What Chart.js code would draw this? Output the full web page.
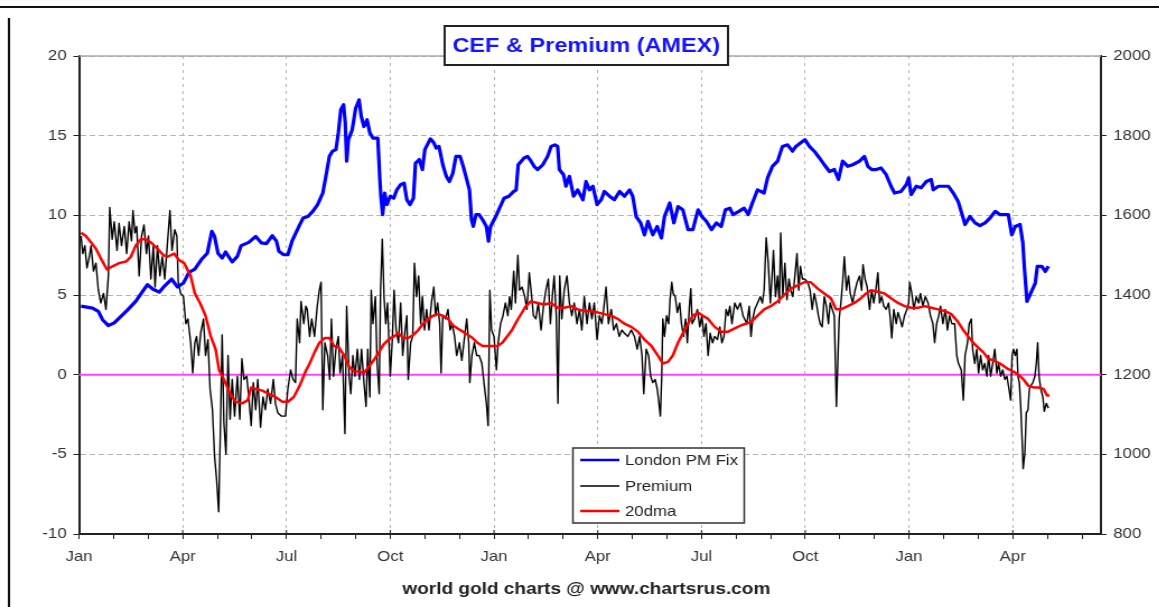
<!DOCTYPE html>
<html>
<head>
<meta charset="utf-8">
<script src="https://cdn.jsdelivr.net/npm/chart.js@4.4.1/dist/chart.umd.min.js"></script>
<style>
  html, body { margin: 0; padding: 0; background: #fff; overflow: hidden; }
  /* the source picture is stretched sideways, so the canvas is too */
  #wrap { width: 1035px; height: 607px; transform: scaleX(1.12); transform-origin: 0 0; }
</style>
</head>
<body>
<div id="wrap"><canvas id="chart" width="1035" height="607"></canvas></div>
<script>
// x = months since Jan 2011
const quarterNames = ["Jan", "Apr", "Jul", "Oct"];
const titleText = "CEF & Premium (AMEX)";
const footerText = "world gold charts @ www.chartsrus.com";

// [month, US$/oz]
const londonFix = [
  [0.06,1372],[0.39,1367],[0.56,1359],[0.68,1338],[0.85,1323],[1.02,1330],[1.16,1342],[1.40,1362],[1.64,1384],[1.84,1409],
  [1.98,1426],[2.13,1415],[2.32,1407],[2.48,1423],[2.68,1440],[2.85,1420],[3.02,1430],[3.18,1457],[3.35,1465],[3.54,1489],
  [3.71,1505],[3.84,1560],[3.92,1547],[4.02,1505],[4.14,1493],[4.24,1508],[4.43,1483],[4.58,1497],[4.69,1524],[4.91,1532],
  [5.11,1547],[5.27,1531],[5.42,1529],[5.59,1549],[5.71,1535],[5.78,1510],[5.92,1501],[6.04,1501],[6.16,1535],[6.36,1572],
  [6.48,1593],[6.62,1597],[6.76,1610],[6.90,1627],[7.05,1656],[7.14,1698],[7.24,1748],[7.33,1761],[7.43,1765],[7.50,1807],
  [7.57,1865],[7.65,1878],[7.70,1832],[7.74,1736],[7.79,1790],[7.90,1815],[8.00,1869],[8.10,1890],[8.16,1849],[8.24,1823],
  [8.33,1840],[8.41,1807],[8.50,1794],[8.64,1794],[8.70,1690],[8.73,1648],[8.78,1602],[8.84,1656],[8.90,1627],[9.00,1648],
  [9.10,1643],[9.19,1664],[9.30,1677],[9.40,1681],[9.48,1639],[9.57,1627],[9.67,1643],[9.73,1731],[9.84,1740],[9.93,1715],
  [10.00,1765],[10.10,1782],[10.16,1792],[10.26,1782],[10.33,1769],[10.41,1773],[10.52,1727],[10.62,1698],[10.71,1685],[10.81,1706],
  [10.90,1748],[11.02,1748],[11.11,1723],[11.21,1690],[11.29,1664],[11.35,1589],[11.40,1572],[11.48,1602],[11.57,1602],[11.67,1589],
  [11.78,1572],[11.84,1535],[11.90,1572],[12.05,1597],[12.16,1618],[12.29,1643],[12.43,1648],[12.57,1660],[12.64,1664],[12.70,1727],
  [12.87,1744],[12.97,1748],[13.07,1736],[13.16,1723],[13.26,1715],[13.41,1727],[13.55,1748],[13.65,1773],[13.76,1777],[13.84,1773],
  [13.89,1715],[14.01,1702],[14.08,1673],[14.18,1698],[14.30,1648],[14.42,1664],[14.57,1639],[14.66,1685],[14.76,1664],[14.86,1673],
  [14.98,1627],[15.10,1639],[15.19,1660],[15.34,1648],[15.48,1639],[15.63,1660],[15.77,1648],[15.92,1664],[16.01,1648],[16.11,1597],
  [16.24,1581],[16.35,1551],[16.45,1585],[16.59,1551],[16.72,1572],[16.84,1543],[16.93,1597],[17.08,1631],[17.20,1581],[17.32,1622],
  [17.46,1614],[17.61,1564],[17.75,1564],[17.90,1614],[18.01,1597],[18.14,1585],[18.29,1564],[18.43,1581],[18.57,1572],[18.69,1614],
  [18.82,1618],[18.91,1602],[19.08,1610],[19.23,1618],[19.35,1602],[19.47,1631],[19.62,1664],[19.81,1656],[19.91,1694],[20.05,1723],
  [20.20,1736],[20.34,1773],[20.49,1777],[20.63,1761],[20.73,1773],[20.87,1782],[20.99,1790],[21.12,1773],[21.26,1761],[21.41,1744],
  [21.55,1727],[21.70,1710],[21.84,1715],[21.96,1690],[22.08,1736],[22.23,1723],[22.37,1727],[22.57,1736],[22.71,1748],[22.81,1723],
  [22.92,1715],[23.05,1715],[23.19,1719],[23.34,1702],[23.48,1673],[23.58,1656],[23.77,1660],[23.92,1677],[23.99,1694],[24.06,1652],
  [24.21,1673],[24.35,1669],[24.50,1685],[24.64,1690],[24.70,1664],[24.85,1673],[24.99,1673],[25.14,1673],[25.28,1656],[25.42,1635],
  [25.52,1606],[25.62,1577],[25.76,1597],[25.91,1581],[26.05,1574],[26.20,1581],[26.34,1593],[26.49,1610],[26.63,1602],[26.87,1602],
  [26.97,1551],[27.07,1572],[27.21,1577],[27.29,1531],[27.34,1464],[27.41,1384],[27.50,1401],[27.65,1430],[27.71,1472],[27.84,1472],
  [27.94,1459],[28.03,1472]
];

// [month, premium %]
const premium = [
  [0.06,8.7],[0.11,7.6],[0.17,8.1],[0.23,6.7],[0.30,7.4],[0.35,8.1],[0.42,6.5],[0.49,7.0],[0.56,5.3],[0.63,4.5],
  [0.71,5.1],[0.78,4.1],[0.85,6.2],[0.89,10.5],[0.96,8.5],[1.02,9.6],[1.10,7.8],[1.16,9.5],[1.23,8.1],[1.31,9.3],
  [1.38,7.6],[1.45,9.6],[1.52,8.4],[1.56,10.3],[1.62,8.9],[1.67,9.3],[1.74,6.2],[1.81,8.7],[1.88,9.4],[1.95,7.6],
  [2.01,8.7],[2.08,6.0],[2.15,8.1],[2.20,5.5],[2.27,8.1],[2.34,6.2],[2.41,7.4],[2.48,6.0],[2.56,8.3],[2.63,10.3],
  [2.69,7.8],[2.77,9.1],[2.83,8.7],[2.87,5.8],[2.94,5.1],[3.02,4.9],[3.09,3.2],[3.15,3.5],[3.23,2.0],[3.29,0.1],
  [3.35,2.0],[3.40,2.4],[3.46,1.2],[3.52,2.6],[3.60,3.5],[3.66,1.2],[3.73,2.2],[3.79,-0.9],[3.86,-2.2],[3.92,-5.1],
  [3.98,-6.6],[4.04,-8.6],[4.10,-2.2],[4.14,2.5],[4.19,-3.0],[4.25,-5.0],[4.31,1.2],[4.37,-2.8],[4.43,-0.3],[4.50,-2.6],
  [4.58,-0.1],[4.65,-2.8],[4.71,1.0],[4.77,-0.3],[4.85,-0.1],[4.91,-1.4],[4.98,-3.2],[5.04,-0.5],[5.11,-2.2],[5.17,-0.3],
  [5.25,-3.3],[5.32,-1.4],[5.39,-2.2],[5.46,-0.9],[5.54,-1.8],[5.62,-0.3],[5.68,-1.8],[5.75,-2.4],[5.85,-2.6],[5.97,-2.6],
  [6.04,-0.9],[6.12,0.3],[6.19,-0.3],[6.26,-0.5],[6.31,3.5],[6.38,2.0],[6.42,4.6],[6.50,3.2],[6.56,4.3],[6.60,4.1],
  [6.67,2.4],[6.73,3.5],[6.81,2.4],[6.89,4.3],[6.95,5.3],[7.00,5.8],[7.05,-2.2],[7.11,2.0],[7.19,1.2],[7.25,-0.3],
  [7.30,3.5],[7.36,-0.1],[7.43,1.6],[7.50,2.4],[7.55,0.1],[7.62,1.2],[7.69,-3.7],[7.74,4.3],[7.81,-0.1],[7.86,-1.2],
  [7.92,1.2],[7.98,-0.1],[8.05,1.6],[8.11,-0.3],[8.17,1.6],[8.24,-0.5],[8.30,-2.0],[8.35,1.6],[8.41,-1.4],[8.45,5.3],
  [8.50,3.2],[8.57,4.9],[8.62,0.7],[8.68,-1.2],[8.72,5.3],[8.77,8.5],[8.82,4.9],[8.87,3.2],[8.92,4.5],[9.00,-0.1],
  [9.06,2.2],[9.11,5.3],[9.17,2.8],[9.24,2.0],[9.30,4.5],[9.36,1.2],[9.43,2.8],[9.48,3.7],[9.52,-0.3],[9.59,2.0],
  [9.65,2.4],[9.70,7.0],[9.76,4.9],[9.82,6.2],[9.88,3.2],[9.93,4.9],[9.99,2.8],[10.05,4.1],[10.12,2.8],[10.19,4.5],
  [10.26,5.5],[10.31,3.7],[10.37,4.5],[10.43,3.2],[10.47,0.1],[10.52,3.7],[10.60,3.5],[10.67,4.1],[10.73,2.8],[10.79,3.2],
  [10.86,2.4],[10.92,1.2],[11.00,2.0],[11.07,0.9],[11.14,2.2],[11.21,3.5],[11.27,2.0],[11.30,-0.5],[11.36,1.2],[11.43,2.0],
  [11.50,1.2],[11.57,1.2],[11.65,0.7],[11.71,-0.5],[11.78,-1.8],[11.83,-3.2],[11.88,5.3],[11.93,2.8],[12.00,2.4],[12.07,0.3],
  [12.12,2.0],[12.19,3.2],[12.26,3.7],[12.33,4.5],[12.40,3.7],[12.45,4.9],[12.50,4.1],[12.57,6.5],[12.62,4.5],[12.69,7.5],
  [12.74,5.3],[12.81,5.5],[12.89,4.9],[12.95,4.1],[13.02,6.4],[13.09,4.9],[13.14,3.7],[13.21,3.5],[13.28,4.5],[13.36,2.8],
  [13.43,4.3],[13.50,5.3],[13.57,6.0],[13.63,3.2],[13.70,5.3],[13.74,6.2],[13.80,3.7],[13.85,-1.8],[13.90,6.2],[13.96,3.5],
  [14.03,5.3],[14.11,6.2],[14.18,4.5],[14.25,3.7],[14.32,4.5],[14.40,3.2],[14.47,4.1],[14.54,2.8],[14.61,4.9],[14.69,3.2],
  [14.76,4.5],[14.83,3.5],[14.90,4.5],[14.98,2.2],[15.05,3.7],[15.12,3.2],[15.17,4.1],[15.24,5.5],[15.31,3.2],[15.39,4.1],
  [15.46,2.8],[15.54,3.2],[15.62,2.4],[15.70,2.8],[15.77,2.6],[15.87,2.4],[15.97,2.8],[16.06,2.4],[16.14,1.6],[16.21,2.4],
  [16.28,1.2],[16.33,-1.2],[16.40,1.6],[16.47,1.2],[16.53,-0.1],[16.59,-0.5],[16.66,-0.3],[16.72,-0.9],[16.77,-1.8],[16.81,-2.6],
  [16.85,-0.1],[16.88,3.5],[16.93,2.4],[16.99,3.7],[17.05,3.2],[17.09,4.7],[17.14,5.8],[17.18,5.1],[17.24,4.9],[17.30,3.9],
  [17.37,4.5],[17.42,3.2],[17.48,2.4],[17.54,3.5],[17.59,2.0],[17.65,4.3],[17.69,5.4],[17.73,3.2],[17.80,3.5],[17.88,4.1],
  [17.95,3.0],[18.01,3.7],[18.07,2.4],[18.13,3.2],[18.19,1.2],[18.25,2.6],[18.32,2.0],[18.38,2.4],[18.46,2.2],[18.53,3.0],
  [18.59,2.0],[18.65,2.4],[18.71,4.1],[18.77,3.7],[18.82,4.3],[18.88,3.2],[18.96,4.5],[19.04,4.1],[19.12,4.5],[19.20,3.7],
  [19.31,3.2],[19.38,4.3],[19.43,2.4],[19.48,3.5],[19.54,4.1],[19.62,4.5],[19.70,4.9],[19.76,4.5],[19.81,5.3],[19.87,8.6],
  [19.93,7.0],[19.99,4.5],[20.04,6.2],[20.08,7.8],[20.14,4.9],[20.20,6.2],[20.25,4.5],[20.29,8.9],[20.35,4.9],[20.41,7.0],
  [20.47,4.7],[20.53,6.0],[20.58,5.3],[20.64,4.9],[20.70,6.2],[20.76,7.6],[20.81,5.3],[20.86,6.8],[20.92,6.0],[20.99,6.0],
  [21.07,5.8],[21.14,5.3],[21.20,4.1],[21.26,5.1],[21.32,4.5],[21.38,3.7],[21.43,3.2],[21.49,3.0],[21.55,4.9],[21.61,4.3],
  [21.67,3.2],[21.72,4.5],[21.78,4.1],[21.84,3.7],[21.90,-2.0],[21.94,0.7],[21.98,3.5],[22.03,4.5],[22.08,5.8],[22.13,7.4],
  [22.19,5.3],[22.25,6.2],[22.30,5.1],[22.37,4.5],[22.44,5.3],[22.50,5.8],[22.57,6.2],[22.63,5.3],[22.67,6.9],[22.73,6.0],
  [22.79,5.5],[22.86,4.1],[22.92,5.3],[22.98,4.5],[23.04,5.3],[23.10,6.4],[23.15,4.5],[23.21,4.9],[23.27,4.3],[23.34,4.1],
  [23.41,4.5],[23.46,3.5],[23.50,2.3],[23.56,4.1],[23.63,3.2],[23.68,3.9],[23.74,3.5],[23.80,3.0],[23.87,3.7],[23.94,4.1],
  [23.99,4.5],[24.02,5.8],[24.08,5.1],[24.14,4.1],[24.21,4.9],[24.28,4.5],[24.33,5.1],[24.40,4.3],[24.47,4.9],[24.55,4.5],
  [24.62,3.7],[24.69,3.2],[24.74,2.0],[24.80,3.2],[24.86,3.7],[24.91,4.3],[24.98,3.2],[25.05,4.1],[25.11,2.8],[25.17,3.7],
  [25.24,3.2],[25.32,3.2],[25.38,1.2],[25.43,0.7],[25.51,0.3],[25.57,-1.6],[25.62,1.2],[25.69,2.0],[25.74,3.2],[25.80,3.5],
  [25.84,1.6],[25.90,0.7],[25.96,1.6],[26.01,0.1],[26.07,1.2],[26.13,0.3],[26.19,0.7],[26.25,-0.1],[26.30,1.2],[26.36,-0.1],
  [26.42,0.7],[26.48,1.6],[26.54,0.1],[26.59,0.7],[26.65,-0.1],[26.71,0.3],[26.77,-0.3],[26.83,-0.1],[26.89,-0.9],[26.94,-1.6],
  [26.98,1.2],[27.02,1.6],[27.07,1.2],[27.12,1.6],[27.15,-0.1],[27.19,-0.5],[27.23,-2.0],[27.27,-4.1],[27.30,-5.9],[27.35,-4.9],
  [27.39,-2.4],[27.44,-2.2],[27.48,-0.9],[27.52,-0.7],[27.58,-0.5],[27.64,-0.1],[27.68,0.7],[27.72,2.0],[27.76,-0.1],[27.81,-0.9],
  [27.87,-1.4],[27.91,-2.3],[27.97,-1.8],[28.03,-2.1]
];

// [month, 20 day average of premium]
const dma20 = [
  [0.06,8.9],[0.20,8.7],[0.35,8.3],[0.49,7.9],[0.63,7.3],[0.81,6.6],[0.97,6.8],[1.16,7.0],[1.36,7.1],[1.50,7.4],
  [1.64,8.1],[1.79,8.5],[1.93,8.5],[2.08,8.3],[2.27,7.9],[2.44,7.5],[2.56,7.4],[2.75,7.6],[2.89,7.2],[3.04,7.0],
  [3.23,6.2],[3.35,5.1],[3.50,4.5],[3.66,3.7],[3.81,2.4],[3.95,1.6],[4.05,0.3],[4.19,-0.3],[4.37,-1.2],[4.53,-1.7],
  [4.72,-1.8],[4.88,-1.6],[4.98,-0.8],[5.11,-0.9],[5.30,-1.0],[5.49,-1.2],[5.68,-1.4],[5.88,-1.7],[6.04,-1.7],[6.21,-1.4],
  [6.38,-0.7],[6.55,0.2],[6.67,0.7],[6.81,1.4],[6.95,2.0],[7.10,2.3],[7.24,2.3],[7.38,1.8],[7.52,1.7],[7.67,1.2],
  [7.81,0.5],[7.95,0.2],[8.10,0.2],[8.24,0.1],[8.38,0.5],[8.52,0.9],[8.67,1.4],[8.81,1.9],[8.95,2.2],[9.10,2.4],
  [9.24,2.6],[9.38,2.3],[9.52,2.3],[9.67,2.5],[9.81,2.8],[9.95,3.2],[10.10,3.5],[10.24,3.7],[10.38,3.8],[10.52,3.7],
  [10.67,3.5],[10.81,3.1],[10.95,2.9],[11.10,2.7],[11.24,2.5],[11.38,2.3],[11.52,2.0],[11.67,1.8],[11.81,1.8],[11.95,1.8],
  [12.10,1.8],[12.24,2.0],[12.38,2.4],[12.52,2.8],[12.67,3.4],[12.81,3.9],[12.92,4.3],[13.07,4.6],[13.26,4.5],[13.45,4.4],
  [13.65,4.5],[13.84,4.2],[14.03,4.2],[14.23,4.3],[14.42,4.1],[14.61,4.0],[14.81,4.0],[15.00,3.9],[15.19,3.8],[15.39,3.7],
  [15.58,3.5],[15.77,3.2],[15.97,3.0],[16.16,2.7],[16.35,2.2],[16.55,1.8],[16.74,1.2],[16.88,0.7],[17.03,0.8],[17.17,1.2],
  [17.32,2.0],[17.46,2.6],[17.61,3.2],[17.75,3.7],[17.90,3.9],[18.04,3.7],[18.19,3.5],[18.38,3.0],[18.57,2.7],[18.77,2.7],
  [18.96,2.9],[19.15,3.1],[19.43,3.3],[19.62,3.7],[19.81,4.1],[20.00,4.3],[20.20,4.6],[20.39,5.0],[20.58,5.4],[20.78,5.6],
  [20.97,5.8],[21.16,5.8],[21.36,5.4],[21.55,5.1],[21.74,4.8],[21.89,4.1],[22.03,4.1],[22.23,4.3],[22.42,4.5],[22.61,4.8],
  [22.76,5.1],[22.90,5.3],[23.10,5.2],[23.29,5.1],[23.48,4.8],[23.68,4.5],[23.87,4.3],[24.06,4.2],[24.26,4.2],[24.45,4.3],
  [24.64,4.2],[24.84,4.1],[25.03,4.0],[25.22,3.8],[25.42,3.3],[25.57,2.8],[25.71,2.4],[25.86,2.0],[26.00,1.7],[26.15,1.4],
  [26.29,1.0],[26.44,0.9],[26.63,0.7],[26.83,0.4],[27.02,0.2],[27.16,0.0],[27.31,-0.3],[27.45,-0.7],[27.60,-0.8],[27.74,-0.8],
  [27.89,-0.9],[27.99,-1.3],[28.06,-1.3]
];

const FONT = "'Liberation Sans', Arial, sans-serif";
const toPoints = (rows) => rows.map(r => ({ x: r[0], y: r[1] }));

const decor = {
  id: "decor",
  beforeDatasetsDraw(chart) {
    const { ctx, chartArea: a, scales } = chart;
    ctx.save();
    // solid top edge of the plot
    ctx.strokeStyle = "#a8a8a8";
    ctx.lineWidth = 1.5;
    ctx.beginPath();
    ctx.moveTo(a.left, a.top);
    ctx.lineTo(a.right, a.top);
    ctx.stroke();
    // zero premium line
    const y0 = scales.y.getPixelForValue(0);
    ctx.strokeStyle = "#ff44ff";
    ctx.lineWidth = 2;
    ctx.beginPath();
    ctx.moveTo(a.left, y0);
    ctx.lineTo(a.right, y0);
    ctx.stroke();
    ctx.restore();
  },
  afterDraw(chart) {
    const { ctx, chartArea: a, scales } = chart;
    ctx.save();

    // quarter ticks poke up through the x axis
    ctx.strokeStyle = "#222";
    ctx.lineWidth = 1;
    ctx.beginPath();
    scales.x.ticks.forEach(t => {
      if (t.value % 3 === 0) {
        const px = scales.x.getPixelForValue(t.value);
        ctx.moveTo(px, a.bottom - 4);
        ctx.lineTo(px, a.bottom);
      }
    });
    ctx.stroke();

    // outer frame lines
    ctx.strokeStyle = "#111";
    ctx.lineWidth = 2;
    ctx.beginPath();
    ctx.moveTo(0, 7);
    ctx.lineTo(chart.width, 7);
    ctx.moveTo(8, 18);
    ctx.lineTo(8, chart.height);
    ctx.stroke();

    // title box
    ctx.fillStyle = "#fff";
    ctx.fillRect(397, 26, 253, 39);
    ctx.strokeStyle = "#222";
    ctx.lineWidth = 2;
    ctx.strokeRect(397, 26, 253, 39);
    ctx.fillStyle = "#1414ff";
    ctx.font = "bold 21px " + FONT;
    ctx.textAlign = "center";
    ctx.textBaseline = "middle";
    ctx.fillText(titleText, 523.5, 46);

    // legend
    ctx.fillStyle = "#fff";
    ctx.fillRect(511.5, 448, 153, 75);
    ctx.strokeStyle = "#333";
    ctx.lineWidth = 1.5;
    ctx.strokeRect(511.5, 448, 153, 75);
    const rows = [460, 486, 511];
    ctx.font = "15px " + FONT;
    ctx.textAlign = "left";
    chart.data.datasets.forEach((ds, i) => {
      ctx.strokeStyle = ds.borderColor;
      ctx.lineWidth = Math.min(ds.borderWidth, 2.5);
      ctx.beginPath();
      ctx.moveTo(518, rows[i]);
      ctx.lineTo(553, rows[i]);
      ctx.stroke();
      ctx.fillStyle = "#222";
      ctx.fillText(ds.label, 558, rows[i] + 1);
    });

    // footer
    ctx.fillStyle = "#222";
    ctx.font = "bold 17px " + FONT;
    ctx.textAlign = "center";
    ctx.fillText(footerText, 523.5, 589);
    ctx.restore();
  }
};

const tickFont = { family: FONT, size: 15 };

new Chart(document.getElementById("chart").getContext("2d"), {
  type: "line",
  data: {
    datasets: [
      { label: "London PM Fix", data: toPoints(londonFix), yAxisID: "yR",
        borderColor: "#0000ff", borderWidth: 3.2, order: 2 },
      { label: "Premium", data: toPoints(premium), yAxisID: "y",
        borderColor: "#000000", borderWidth: 1.4, order: 3 },
      { label: "20dma", data: toPoints(dma20), yAxisID: "y",
        borderColor: "#ff0000", borderWidth: 2.5, order: 1 }
    ]
  },
  options: {
    responsive: false,
    animation: false,
    layout: { padding: { left: 10, right: 0, top: 56, bottom: 0 } },
    elements: {
      point: { radius: 0 },
      line: { tension: 0, borderJoinStyle: "round", fill: false }
    },
    plugins: { legend: { display: false }, tooltip: { enabled: false } },
    scales: {
      x: {
        type: "linear",
        min: 0,
        max: 29.55,
        afterFit: (s) => { s.height = 73; },
        ticks: {
          stepSize: 1, maxTicksLimit: 40, autoSkip: false, includeBounds: false,
          maxRotation: 0, padding: 9, color: "#333", font: tickFont,
          callback: (v) => (Number.isInteger(v) && v % 3 === 0) ? quarterNames[(v / 3) % 4] : ""
        },
        grid: {
          color: (c) => (c.tick && c.tick.value > 0 && c.tick.value % 3 === 0) ? "#b4b4b4" : "transparent",
          tickColor: (c) => (c.tick && Number.isInteger(c.tick.value)) ? "#222" : "transparent",
          tickLength: 5,
          lineWidth: 1
        },
        border: { color: "#222", width: 2, dash: [3, 4] }
      },
      y: {
        position: "left",
        min: -10,
        max: 20,
        afterFit: (s) => { s.width = 60.5; },
        ticks: { stepSize: 5, padding: 6, color: "#333", font: tickFont, callback: (v) => String(v) },
        grid: { color: "#b4b4b4", tickColor: "#222", tickLength: 5, lineWidth: 1 },
        border: { color: "#222", width: 2, dash: [5, 3] }
      },
      yR: {
        position: "right",
        min: 800,
        max: 2000,
        afterFit: (s) => { s.width = 52; },
        ticks: { stepSize: 200, padding: 6, color: "#333", font: tickFont, callback: (v) => String(v) },
        grid: { drawOnChartArea: false, tickColor: "#222", tickLength: 5 },
        border: { color: "#222", width: 2 }
      }
    }
  },
  plugins: [decor]
});
</script>
</body>
</html>
